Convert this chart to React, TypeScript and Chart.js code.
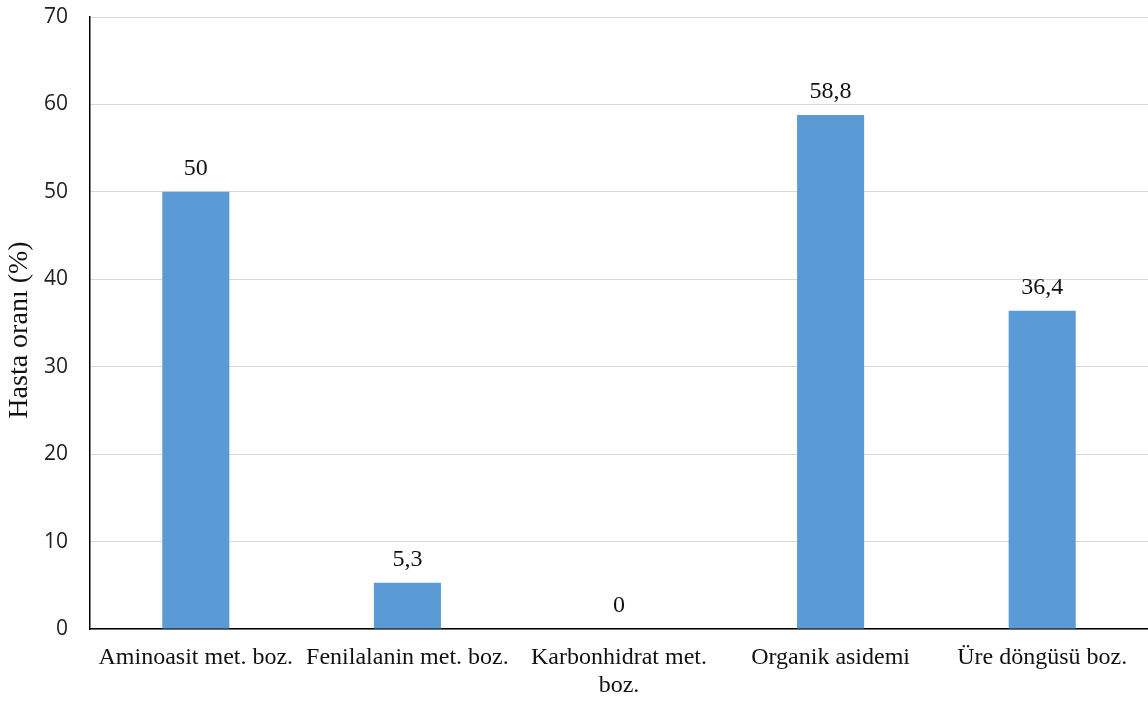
import React, { useEffect, useRef } from "react";
import { Chart, registerables } from "chart.js";

Chart.register(...registerables);

const categories: (string | string[])[] = [
  "Aminoasit met. boz.",
  "Fenilalanin met. boz.",
  ["Karbonhidrat met.", "boz."],
  "Organik asidemi",
  "Üre döngüsü boz.",
];
const rates: number[] = [50, 5.3, 0, 58.8, 36.4];
const yTitle = "Hasta oranı (%)";

const serif = "'Liberation Serif', 'Times New Roman', serif";
const sans = "'Open Sans', 'DejaVu Sans', sans-serif";

// Writes each bar's value (decimal comma) just above its top edge.
const valueLabels = {
  id: "valueLabels",
  afterDatasetsDraw(chart: any) {
    const ctx = chart.ctx;
    const meta = chart.getDatasetMeta(0);
    ctx.save();
    ctx.font = `24px ${serif}`;
    ctx.fillStyle = "#111111";
    ctx.textAlign = "center";
    ctx.textBaseline = "middle";
    meta.data.forEach((bar: any, i: number) => {
      const v = chart.data.datasets[0].data[i] as number;
      ctx.fillText(String(v).replace(".", ","), bar.x, bar.y - 23);
    });
    ctx.restore();
  },
};

// Vertical axis title, set a little below the plot's middle.
const axisTitle = {
  id: "axisTitle",
  afterDraw(chart: any) {
    const { ctx, chartArea } = chart;
    const cy = (chartArea.top + chartArea.bottom) / 2 + 7;
    ctx.save();
    ctx.translate(20, cy);
    ctx.rotate(-Math.PI / 2);
    ctx.font = `28px ${serif}`;
    ctx.fillStyle = "#111111";
    ctx.textAlign = "center";
    ctx.textBaseline = "middle";
    ctx.fillText(yTitle, 0, 0);
    ctx.restore();
  },
};

export default function App() {
  const ref = useRef<HTMLCanvasElement | null>(null);

  useEffect(() => {
    document.body.style.margin = "0";
    const chart = new Chart(ref.current!, {
      type: "bar",
      data: {
        labels: categories,
        datasets: [
          {
            data: rates,
            backgroundColor: "#5b9bd5",
            categoryPercentage: 1,
            barPercentage: 0.317,
          },
        ],
      },
      options: {
        animation: false,
        responsive: false,
        layout: { padding: { top: 17, right: 0, left: 0, bottom: 0 } },
        plugins: { legend: { display: false }, tooltip: { enabled: false } },
        scales: {
          x: {
            grid: { display: false, drawTicks: false },
            border: { color: "#000000", width: 1.5 },
            ticks: {
              color: "#111111",
              font: { family: serif, size: 24 },
              padding: 14,
              maxRotation: 0,
              autoSkip: false,
            },
            afterFit(scale: any) {
              scale.height = 73;
              scale.paddingLeft = 0;
              scale.paddingRight = 0;
            },
          },
          y: {
            min: 0,
            max: 70,
            ticks: {
              stepSize: 10,
              color: "#222222",
              font: { family: sans, size: 21 },
              padding: 22,
            },
            grid: { color: "#d9d9d9", lineWidth: 1, drawTicks: false },
            border: { color: "#000000", width: 1.5 },
            afterFit(scale: any) {
              scale.width = 90;
              scale.paddingTop = 0;
              scale.paddingBottom = 0;
            },
          },
        },
      },
      plugins: [valueLabels, axisTitle],
    });
    return () => chart.destroy();
  }, []);

  return (
    <div style={{ width: 1148, height: 702, background: "#ffffff" }}>
      <canvas ref={ref} width={1148} height={702} />
    </div>
  );
}
